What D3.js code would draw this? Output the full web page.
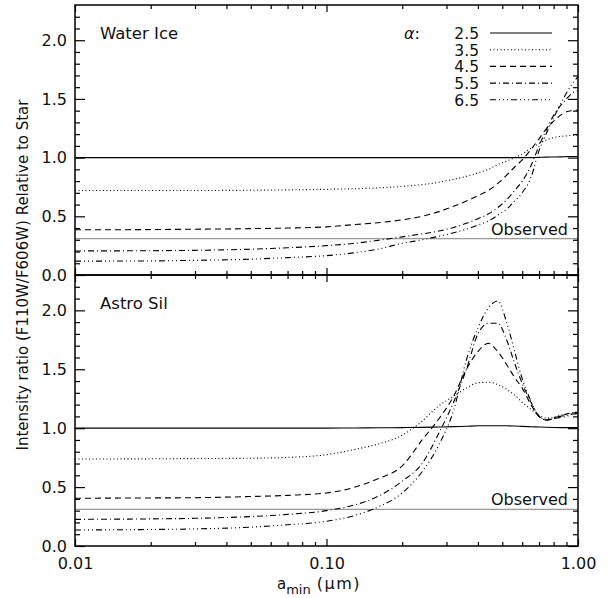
<!DOCTYPE html>
<html>
<head>
<meta charset="utf-8">
<script src="https://cdn.jsdelivr.net/npm/d3@7"></script>
<style>
	body{ margin:0; background:#fff; }
	text{ font-family:"DejaVu Sans", sans-serif; fill:#111; }
</style>
</head>
<body>
<div id="chart"></div>
<script>
// grain size grid (micron) shared by every curve
var aMin = [0.01, 0.02, 0.03, 0.05, 0.07, 0.1, 0.13, 0.16, 0.2, 0.24, 0.28, 0.32, 0.36, 0.4,
	0.44, 0.48, 0.52, 0.56, 0.6, 0.65, 0.7, 0.75, 0.8, 0.85, 0.9, 0.95, 1.0];
var alphas = ["2.5", "3.5", "4.5", "5.5", "6.5"];

// Water Ice panel
var ice25 = [1.0, 1.0, 1.0, 1.0, 1.0, 1.0, 1.0, 1.0, 1.0, 1.0, 1.0, 1.0, 1.0, 1.0,
	1.0, 1.0, 1.0, 1.0, 1.0, 1.0, 1.002, 1.004, 1.005, 1.006, 1.008, 1.01, 1.01];
var ice35 = [0.72, 0.72, 0.72, 0.722, 0.725, 0.73, 0.735, 0.742, 0.755, 0.77, 0.79, 0.815, 0.84, 0.87,
	0.9, 0.94, 0.97, 1.0, 1.03, 1.08, 1.12, 1.15, 1.17, 1.18, 1.185, 1.19, 1.19];
var ice45 = [0.385, 0.387, 0.39, 0.395, 0.4, 0.41, 0.43, 0.445, 0.47, 0.5, 0.54, 0.585, 0.63, 0.675,
	0.72, 0.78, 0.85, 0.92, 0.98, 1.07, 1.16, 1.25, 1.31, 1.36, 1.39, 1.4, 1.405];
var ice55 = [0.205, 0.207, 0.21, 0.22, 0.232, 0.25, 0.27, 0.295, 0.325, 0.35, 0.375, 0.405, 0.44, 0.48,
	0.52, 0.575, 0.64, 0.72, 0.8, 0.93, 1.1, 1.24, 1.36, 1.44, 1.5, 1.55, 1.57];
var ice65 = [0.118, 0.12, 0.125, 0.135, 0.148, 0.165, 0.19, 0.22, 0.27, 0.3, 0.33, 0.36, 0.39, 0.425,
	0.46, 0.51, 0.56, 0.63, 0.7, 0.83, 1.06, 1.21, 1.34, 1.45, 1.55, 1.63, 1.69];

// Astro Sil panel
var sil25 = [1.0, 1.0, 1.0, 1.0, 1.0, 1.0, 1.002, 1.003, 1.005, 1.007, 1.01, 1.013, 1.016, 1.02,
	1.02, 1.02, 1.02, 1.018, 1.015, 1.012, 1.01, 1.008, 1.006, 1.005, 1.005, 1.005, 1.005];
var sil35 = [0.738, 0.74, 0.742, 0.745, 0.752, 0.775, 0.82, 0.865, 0.94, 1.06, 1.19, 1.27, 1.34, 1.385,
	1.39, 1.37, 1.33, 1.28, 1.22, 1.16, 1.11, 1.085, 1.09, 1.11, 1.12, 1.13, 1.14];
var sil45 = [0.405, 0.408, 0.41, 0.42, 0.43, 0.45, 0.5, 0.57, 0.68, 0.9, 1.08, 1.27, 1.5, 1.65,
	1.72, 1.65, 1.54, 1.43, 1.34, 1.2, 1.1, 1.07, 1.09, 1.1, 1.12, 1.13, 1.13];
var sil55 = [0.226, 0.23, 0.235, 0.25, 0.268, 0.3, 0.35, 0.42, 0.55, 0.7, 0.96, 1.22, 1.5, 1.8,
	1.89, 1.89, 1.75, 1.55, 1.38, 1.22, 1.1, 1.07, 1.08, 1.1, 1.11, 1.12, 1.12];
var sil65 = [0.136, 0.14, 0.145, 0.16, 0.18, 0.21, 0.26, 0.33, 0.45, 0.63, 0.86, 1.15, 1.58, 1.85,
	2.02, 2.08, 1.9, 1.65, 1.42, 1.23, 1.1, 1.07, 1.08, 1.09, 1.1, 1.12, 1.13];

var observed = 0.31;
var yMajor = [0, 0.5, 1.0, 1.5, 2.0];
var yMinor = [0.1, 0.2, 0.3, 0.4, 0.6, 0.7, 0.8, 0.9, 1.1, 1.2, 1.3, 1.4, 1.6, 1.7, 1.8, 1.9, 2.1, 2.2];
var xMajor = [0.01, 0.1, 1];
var xMinor = [0.02, 0.03, 0.04, 0.05, 0.06, 0.07, 0.08, 0.09, 0.2, 0.3, 0.4, 0.5, 0.6, 0.7, 0.8, 0.9];
var xLabels = ["0.01", "0.10", "1.00"];

var dashes = [null, "1,2.5", "6,4", "6,3,1,3", "6,3,1,3,1,3,1,3"];

var width = 612, height = 598;
var left = 75, right = 578;

var svg = d3.select("#chart").append("svg")
	.attr("width", width)
	.attr("height", height);

var x = d3.scaleLog().domain([0.01, 1]).range([left, right]);

function drawPanel(top, bottom, series, title, showXLabels){
	var y = d3.scaleLinear().domain([0, 2.3]).range([bottom, top]);
	var g = svg.append("g");

	// clip curves to the panel
	var id = "clip" + Math.round(top);
	svg.append("clipPath").attr("id", id).append("rect")
		.attr("x", left).attr("y", top).attr("width", right - left).attr("height", bottom - top);

	// observed level
	g.append("line")
		.attr("x1", left).attr("x2", right)
		.attr("y1", y(observed)).attr("y2", y(observed))
		.attr("stroke", "#999").attr("stroke-width", 1.2);
	g.append("text")
		.attr("x", right - 10).attr("y", y(observed) - 4)
		.attr("text-anchor", "end").attr("font-size", 16)
		.text("Observed");

	var line = d3.line()
		.x(function(d, i){ return x(aMin[i]); })
		.y(function(d){ return y(d); })
		.curve(d3.curveMonotoneX);

	var curves = g.append("g").attr("clip-path", "url(#" + id + ")");
	for(var k = 0; k < series.length; k++){
		curves.append("path")
			.attr("d", line(series[k]))
			.attr("fill", "none")
			.attr("stroke", "#000")
			.attr("stroke-width", 1.1)
			.attr("stroke-dasharray", dashes[k]);
	}

	// y axes, ticks pointing inwards
	g.append("g").attr("transform", "translate(" + left + ",0)")
		.call(d3.axisLeft(y).tickValues(yMajor).tickSize(-10).tickPadding(8).tickFormat(d3.format(".1f")));
	g.append("g").attr("transform", "translate(" + left + ",0)")
		.call(d3.axisLeft(y).tickValues(yMinor).tickSize(-5).tickFormat(""));
	g.append("g").attr("transform", "translate(" + right + ",0)")
		.call(d3.axisRight(y).tickValues(yMajor).tickSize(-10).tickFormat(""));
	g.append("g").attr("transform", "translate(" + right + ",0)")
		.call(d3.axisRight(y).tickValues(yMinor).tickSize(-5).tickFormat(""));

	// x axes
	var bottomAxis = d3.axisBottom(x).tickValues(xMajor).tickSize(-7).tickPadding(12)
		.tickFormat(function(d, i){ return showXLabels ? xLabels[i] : ""; });
	g.append("g").attr("transform", "translate(0," + bottom + ")").call(bottomAxis);
	g.append("g").attr("transform", "translate(0," + bottom + ")")
		.call(d3.axisBottom(x).tickValues(xMinor).tickSize(-4).tickFormat(""));
	g.append("g").attr("transform", "translate(0," + top + ")")
		.call(d3.axisTop(x).tickValues(xMajor).tickSize(-7).tickFormat(""));
	g.append("g").attr("transform", "translate(0," + top + ")")
		.call(d3.axisTop(x).tickValues(xMinor).tickSize(-4).tickFormat(""));

	g.selectAll(".domain").remove();
	g.selectAll(".tick line").attr("stroke", "#000").attr("stroke-width", 1.2);
	g.selectAll(".tick text").attr("font-size", 16).attr("font-family", "DejaVu Sans").attr("fill", "#111");

	// frame
	g.append("rect")
		.attr("x", left).attr("y", top)
		.attr("width", right - left).attr("height", bottom - top)
		.attr("fill", "none").attr("stroke", "#000").attr("stroke-width", 1.5);

	g.append("text")
		.attr("x", 100).attr("y", top + 34)
		.attr("font-size", 16.5)
		.text(title);

	return y;
}

drawPanel(5, 275, [ice25, ice35, ice45, ice55, ice65], "Water Ice", false);
drawPanel(275, 546, [sil25, sil35, sil45, sil55, sil65], "Astro Sil", true);

// legend in the top panel
var legend = svg.append("g");
legend.append("text")
	.attr("x", 404).attr("y", 39)
	.attr("font-size", 16)
	.html("<tspan font-style='italic'>α</tspan>:");
for(var i = 0; i < alphas.length; i++){
	var ly = 33 + i * 16.7;
	legend.append("text")
		.attr("x", 479).attr("y", ly + 6)
		.attr("text-anchor", "end").attr("font-size", 15.5)
		.text(alphas[i]);
	legend.append("line")
		.attr("x1", 490).attr("x2", 552)
		.attr("y1", ly).attr("y2", ly)
		.attr("stroke", "#000").attr("stroke-width", 1.1)
		.attr("stroke-dasharray", dashes[i]);
}

// axis titles
svg.append("text")
	.attr("transform", "translate(28,275) rotate(-90)")
	.attr("text-anchor", "middle").attr("font-size", 15)
	.text("Intensity ratio (F110W/F606W) Relative to Star");

var xt = svg.append("text")
	.attr("x", 277).attr("y", 589)
	.attr("font-size", 15);
xt.append("tspan").text("a");
xt.append("tspan").attr("dy", 5).attr("font-size", 13).text("min");
xt.append("tspan").attr("dy", -5).attr("dx", 6).attr("font-size", 16)
	.attr("letter-spacing", 1.5).text("(μm)");
</script>
</body>
</html>
